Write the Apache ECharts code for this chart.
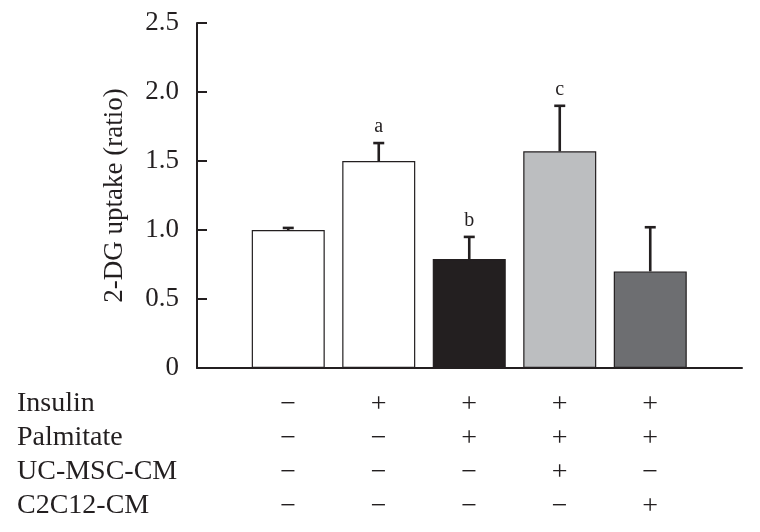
<!DOCTYPE html>
<html>
<head>
<meta charset="utf-8">
<script src="https://cdn.jsdelivr.net/npm/echarts@6/dist/echarts.min.js"></script>
<style>html,body{margin:0;padding:0;background:#fff}#c{width:760px;height:532px}</style>
</head>
<body>
<div id="c"></div>
<script>
const categories = ['G1', 'G2', 'G3', 'G4', 'G5'];
const values = [1.00, 1.50, 0.79, 1.57, 0.70];
const errors = [0.015, 0.13, 0.16, 0.33, 0.32];
const letters = ['', 'a', 'b', 'c', ''];
const barColors = ['#ffffff', '#ffffff', '#231f20', '#bcbec0', '#6d6e71'];
const yTicks = ['0', '0.5', '1.0', '1.5', '2.0', '2.5'];
const rowNames = ['Insulin', 'Palmitate', 'UC-MSC-CM', 'C2C12-CM'];
const rowSigns = [
  ['−', '+', '+', '+', '+'],
  ['−', '−', '+', '+', '+'],
  ['−', '−', '−', '+', '−'],
  ['−', '−', '−', '−', '+']
];

const FONT = 'Liberation Serif';
const INK = '#231f20';
const LH = 34;
const chart = echarts.init(document.getElementById('c'));
const gridTop = 23, gridBottom = 164;

chart.setOption({
  animation: false,
  textStyle: { fontFamily: FONT, color: INK },
  title: {
    text: rowNames.join('\n'),
    left: 17, top: 387, padding: 0,
    textStyle: { fontFamily: FONT, fontSize: 28, fontWeight: 'normal', color: INK, lineHeight: LH }
  },
  grid: [
    { left: 197, right: 18, top: gridTop, bottom: gridBottom },
    { left: 243, width: 452.5, top: gridTop, bottom: gridBottom }
  ],
  xAxis: [
    {
      gridIndex: 0, type: 'category', data: [''],
      axisLine: { lineStyle: { color: INK, width: 2 } },
      axisTick: { show: false }, axisLabel: { show: false }
    },
    {
      gridIndex: 1, type: 'category', data: categories,
      axisLine: { show: false }, axisTick: { show: false },
      axisLabel: {
        margin: 20,
        formatter: (v, i) => rowSigns.map(r => r[i]).join('\n'),
        fontFamily: FONT, fontSize: 28, lineHeight: LH, color: INK
      }
    }
  ],
  yAxis: [
    {
      gridIndex: 0, type: 'value', min: 0, max: 2.5, interval: 0.5,
      name: '2-DG uptake (ratio)', nameLocation: 'middle', nameGap: 69,
      nameTextStyle: { fontFamily: FONT, fontSize: 27, color: INK },
      axisLine: { show: true, lineStyle: { color: INK, width: 2 } },
      axisTick: { show: true, inside: true, length: 10, lineStyle: { color: INK, width: 2 } },
      axisLabel: {
        margin: 18, fontFamily: FONT, fontSize: 27, color: INK,
        formatter: v => yTicks[Math.round(v / 0.5)]
      },
      splitLine: { show: false }
    },
    {
      gridIndex: 1, type: 'value', min: 0, max: 2.5, interval: 0.5,
      axisLine: { show: false }, axisTick: { show: false },
      axisLabel: { show: false }, splitLine: { show: false }
    }
  ],
  series: [
    {
      type: 'bar', xAxisIndex: 1, yAxisIndex: 1, barWidth: 73,
      data: values.map((v, i) => ({
        value: v,
        itemStyle: { color: barColors[i], borderColor: INK, borderWidth: 1.2 }
      })),
      z: 2
    },
    {
      type: 'custom', xAxisIndex: 1, yAxisIndex: 1, z: 3,
      data: values.map((v, i) => [i, v, errors[i]]),
      renderItem: (params, api) => {
        const i = api.value(0);
        const v = api.value(1);
        const e = api.value(2);
        const base = api.coord([i, v]);
        const top = api.coord([i, v + e]);
        const children = [
          { type: 'line', shape: { x1: base[0], y1: base[1], x2: top[0], y2: top[1] },
            style: { stroke: INK, lineWidth: 2.6 } },
          { type: 'line', shape: { x1: top[0] - 5.5, y1: top[1], x2: top[0] + 5.5, y2: top[1] },
            style: { stroke: INK, lineWidth: 2.6 } }
        ];
        if (letters[i]) {
          children.push({ type: 'text', x: top[0], y: top[1] - 16,
            style: { text: letters[i], fontFamily: FONT, fontSize: 20, fill: INK,
                     align: 'center', verticalAlign: 'middle' } });
        }
        return { type: 'group', children };
      }
    }
  ]
});
</script>
</body>
</html>
